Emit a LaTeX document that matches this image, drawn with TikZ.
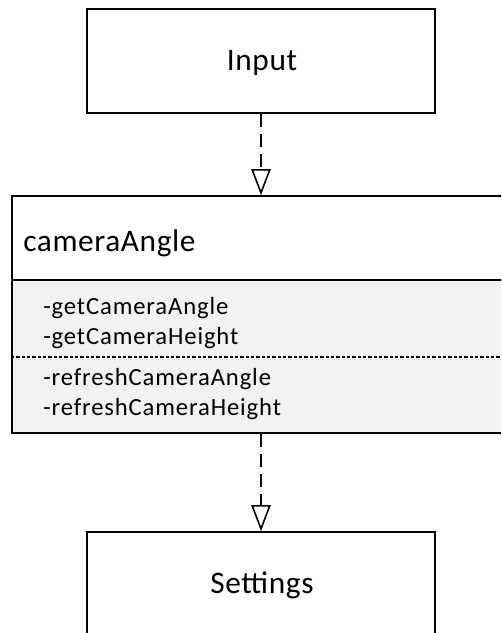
\documentclass[tikz,border=0pt]{standalone}
\usepackage{fontspec}
\setmainfont{Carlito}
\newfontfamily\namefont[LetterSpace=2]{Carlito}
\newfontfamily\memberfont[LetterSpace=3.5]{Carlito}
\usetikzlibrary{arrows.meta}
\definecolor{panelgrey}{HTML}{F2F2F2}
\begin{document}
\begin{tikzpicture}[x=0.75pt,y=-0.75pt,
  box/.style={draw=black, line width=1.3pt, fill=white, inner sep=0pt},
  label/.style={font=\namefont\fontsize{23.5pt}{27pt}\selectfont, inner sep=0pt},
  member/.style={font=\memberfont\fontsize{18.5pt}{22pt}\selectfont, inner sep=0pt, anchor=west},
  realize/.style={draw=black, line width=1.2pt, dash pattern=on 10pt off 5pt,
    -{Triangle[open, length=19.5pt, width=14.5pt, line width=1.2pt]}}
]
\useasboundingbox (0,0) rectangle (501,633);
\clip (0,0) rectangle (501,633);

% Input component
\node[box, minimum width=261pt, minimum height=78pt] (input) at (261,61) {};
\node[label] (inputtext) at (262,63) {Input};

% cameraAngle class: name compartment and operations compartment
\node[box, minimum width=373.5pt, minimum height=63pt] (cls) at (261,238) {};
\node[box, fill=panelgrey, minimum width=373.5pt, minimum height=114.75pt] (ops) at (261,356.5) {};
\node[label, anchor=west] (clsname) at (23,243) {cameraAngle};
\coordinate (sepL) at (ops.west |- 0,357);
\coordinate (sepR) at (ops.east |- 0,357);
\draw[line width=0.9pt, dash pattern=on 2.5pt off 1.5pt] (sepL) -- (sepR);
\node[member] (m1) at (43,308) {-getCameraAngle};
\node[member] (m2) at (43,338) {-getCameraHeight};
\node[member] (m3) at (43,379) {-refreshCameraAngle};
\node[member] (m4) at (43,409) {-refreshCameraHeight};

% Settings component
\node[box, minimum width=261pt, minimum height=78pt] (settings) at (261,584) {};
\node[label] (settingstext) at (262,585) {Settings};

% dependency connectors
\draw[realize] (input.south) -- (cls.north);
\draw[realize] (ops.south) -- (settings.north);
\end{tikzpicture}
\end{document}
